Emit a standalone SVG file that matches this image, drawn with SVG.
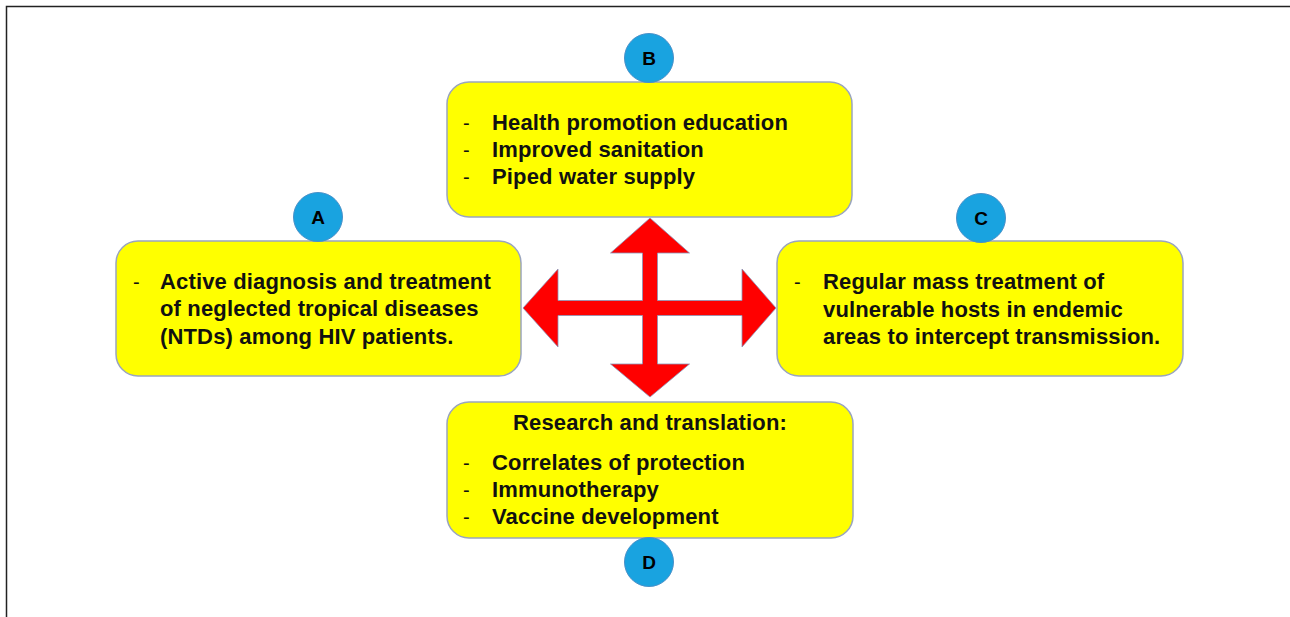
<svg xmlns="http://www.w3.org/2000/svg" width="1290" height="617" viewBox="0 0 1290 617">
  <style>
    .box { fill: #FFFF00; stroke: #9AA5BE; stroke-width: 1.5; }
    .badge { fill: #19A3E0; stroke: #4A90C8; stroke-width: 1; }
    .badge-label { font-family: "Liberation Sans", Arial, sans-serif; font-weight: bold; font-size: 19px; fill: #000; text-anchor: middle; }
    .txt { font-family: "Liberation Sans", Arial, sans-serif; font-weight: bold; font-size: 22px; letter-spacing: 0.15px; fill: #111; }
    .dash { font-family: "Liberation Sans", Arial, sans-serif; font-size: 20px; fill: #111; }
    .arrows { fill: #FF0000; stroke: #8A94B8; stroke-width: 0.8; }
  </style>
  <rect width="1290" height="617" fill="#FFFFFF"/>
  <!-- frame lines on left and top edges -->
  <path d="M6.5,617 V6.5 H1290" fill="none" stroke="#222" stroke-width="1.5"/>

  <!-- four-way connector arrow -->
  <g id="connectors">
    <polygon class="arrows" points="650,218 689.5,253 657.5,253 657.5,300.5 742,300.5 742,269 776,308 742,347 742,315.5 657.5,315.5 657.5,364 689.5,364 650,397 610.5,364 642.5,364 642.5,315.5 558,315.5 558,347 523,308 558,269 558,300.5 642.5,300.5 642.5,253 610.5,253"/>
  </g>

  <!-- B: prevention -->
  <g id="node-b">
    <rect class="box" x="447" y="82" width="405" height="135" rx="22" ry="22"/>
    <text class="dash" x="463" y="130">-</text>
    <text class="txt" x="492" y="130">Health promotion education</text>
    <text class="dash" x="463" y="157">-</text>
    <text class="txt" x="492" y="157">Improved sanitation</text>
    <text class="dash" x="463" y="184">-</text>
    <text class="txt" x="492" y="184">Piped water supply</text>
    <circle class="badge" cx="649" cy="58" r="24.5"/>
    <text class="badge-label" x="649" y="65">B</text>
  </g>

  <!-- A: diagnosis and treatment -->
  <g id="node-a">
    <rect class="box" x="116" y="241" width="405" height="135" rx="22" ry="22"/>
    <text class="dash" x="133" y="289">-</text>
    <text class="txt" x="160" y="289">Active diagnosis and treatment</text>
    <text class="txt" x="160" y="316">of neglected tropical diseases</text>
    <text class="txt" x="160" y="344">(NTDs) among HIV patients.</text>
    <circle class="badge" cx="318" cy="217" r="24.5"/>
    <text class="badge-label" x="318" y="224">A</text>
  </g>

  <!-- C: mass treatment -->
  <g id="node-c">
    <rect class="box" x="777" y="241" width="406" height="135" rx="22" ry="22"/>
    <text class="dash" x="794" y="289">-</text>
    <text class="txt" x="823" y="289">Regular mass treatment of</text>
    <text class="txt" x="823" y="317">vulnerable hosts in endemic</text>
    <text class="txt" x="823" y="344">areas to intercept transmission.</text>
    <circle class="badge" cx="981" cy="218" r="24.5"/>
    <text class="badge-label" x="981" y="225">C</text>
  </g>

  <!-- D: research and translation -->
  <g id="node-d">
    <rect class="box" x="447" y="402" width="406" height="136" rx="22" ry="22"/>
    <text class="txt" x="650" y="430" text-anchor="middle">Research and translation:</text>
    <text class="dash" x="463" y="470">-</text>
    <text class="txt" x="492" y="470">Correlates of protection</text>
    <text class="dash" x="463" y="497">-</text>
    <text class="txt" x="492" y="497">Immunotherapy</text>
    <text class="dash" x="463" y="524">-</text>
    <text class="txt" x="492" y="524">Vaccine development</text>
    <circle class="badge" cx="649" cy="562" r="24.5"/>
    <text class="badge-label" x="649" y="569">D</text>
  </g>
</svg>
